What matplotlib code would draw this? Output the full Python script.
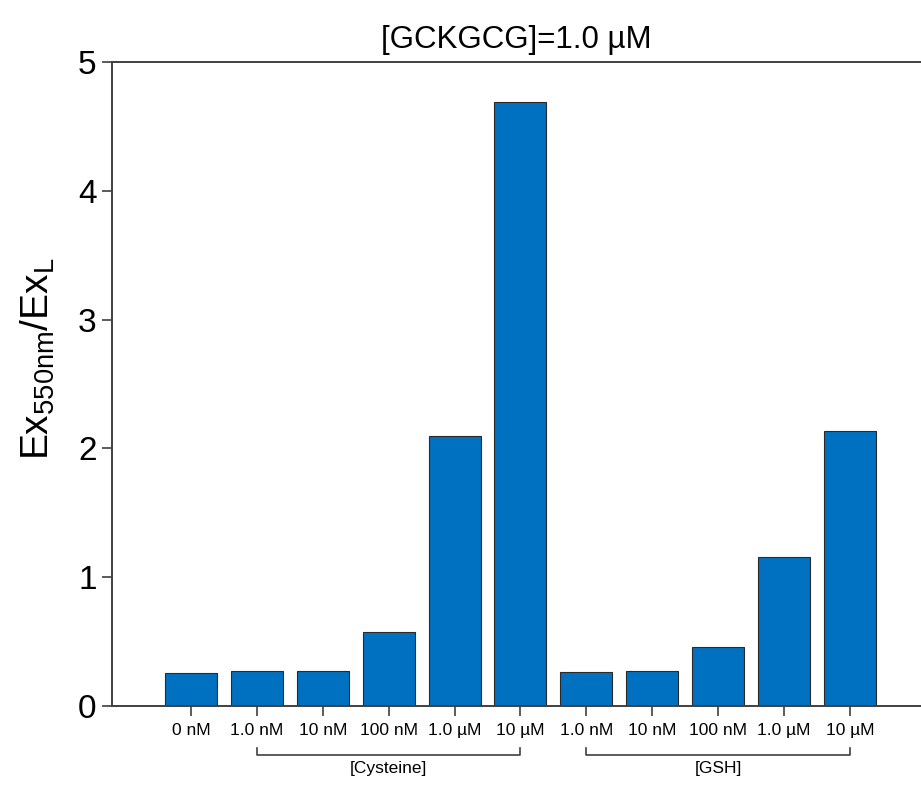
import matplotlib
matplotlib.use("Agg")
import matplotlib.pyplot as plt
import matplotlib.transforms as mtransforms

plt.rcParams['font.family'] = ['Liberation Sans', 'DejaVu Sans']
plt.rcParams['mathtext.default'] = 'regular'

categories = ["0 nM", "1.0 nM", "10 nM", "100 nM", "1.0 µM", "10 µM",
              "1.0 nM", "10 nM", "100 nM", "1.0 µM", "10 µM"]
values = [0.256, 0.27, 0.27, 0.575, 2.096, 4.69,
          0.264, 0.27, 0.458, 1.157, 2.135]
groups = [("[Cysteine]", 1, 5), ("[GSH]", 6, 10)]
title = "[GCKGCG]=1.0 µM"

fig = plt.figure(figsize=(9.21, 7.86), dpi=100)
ax = fig.add_axes([0.1216, 0.1018, 0.8784, 0.8193])
x = list(range(len(categories)))
ax.bar(x, values, width=0.79, color="#0070C0", edgecolor="#2a2a2a", linewidth=0.8, zorder=2)
ax.set_xlim(-1.2, 11.08)
ax.set_ylim(0, 5)
ax.set_yticks([0, 1, 2, 3, 4, 5])
ax.set_xticks(x)
ax.set_xticklabels(categories, fontsize=12.5)
ax.tick_params(axis='y', labelsize=24, length=7, width=1.2, color="#404040", pad=4)
ax.tick_params(axis='x', length=7, width=1.2, color="#404040", pad=5)
for s in ["left", "top", "bottom"]:
    ax.spines[s].set_color("#404040")
    ax.spines[s].set_linewidth(1.4)
ax.spines["right"].set_visible(False)
ax.set_ylabel("Ex$_{550nm}$/Ex$_{L}$", fontsize=28)
ax.yaxis.set_label_coords(-0.068, 0.54)
ax.set_title(title, fontsize=22.5, pad=10)

trans = mtransforms.blended_transform_factory(ax.transData, ax.transAxes)
for label, i0, i1 in groups:
    ax.plot([i0, i0, i1, i1], [-0.065, -0.076, -0.076, -0.065], transform=trans,
            color="#404040", lw=1.2, clip_on=False)
    ax.text((i0 + i1) / 2, -0.086, label, transform=trans, ha='center', va='top', fontsize=12.5)

fig.savefig("out.png", dpi=100)
